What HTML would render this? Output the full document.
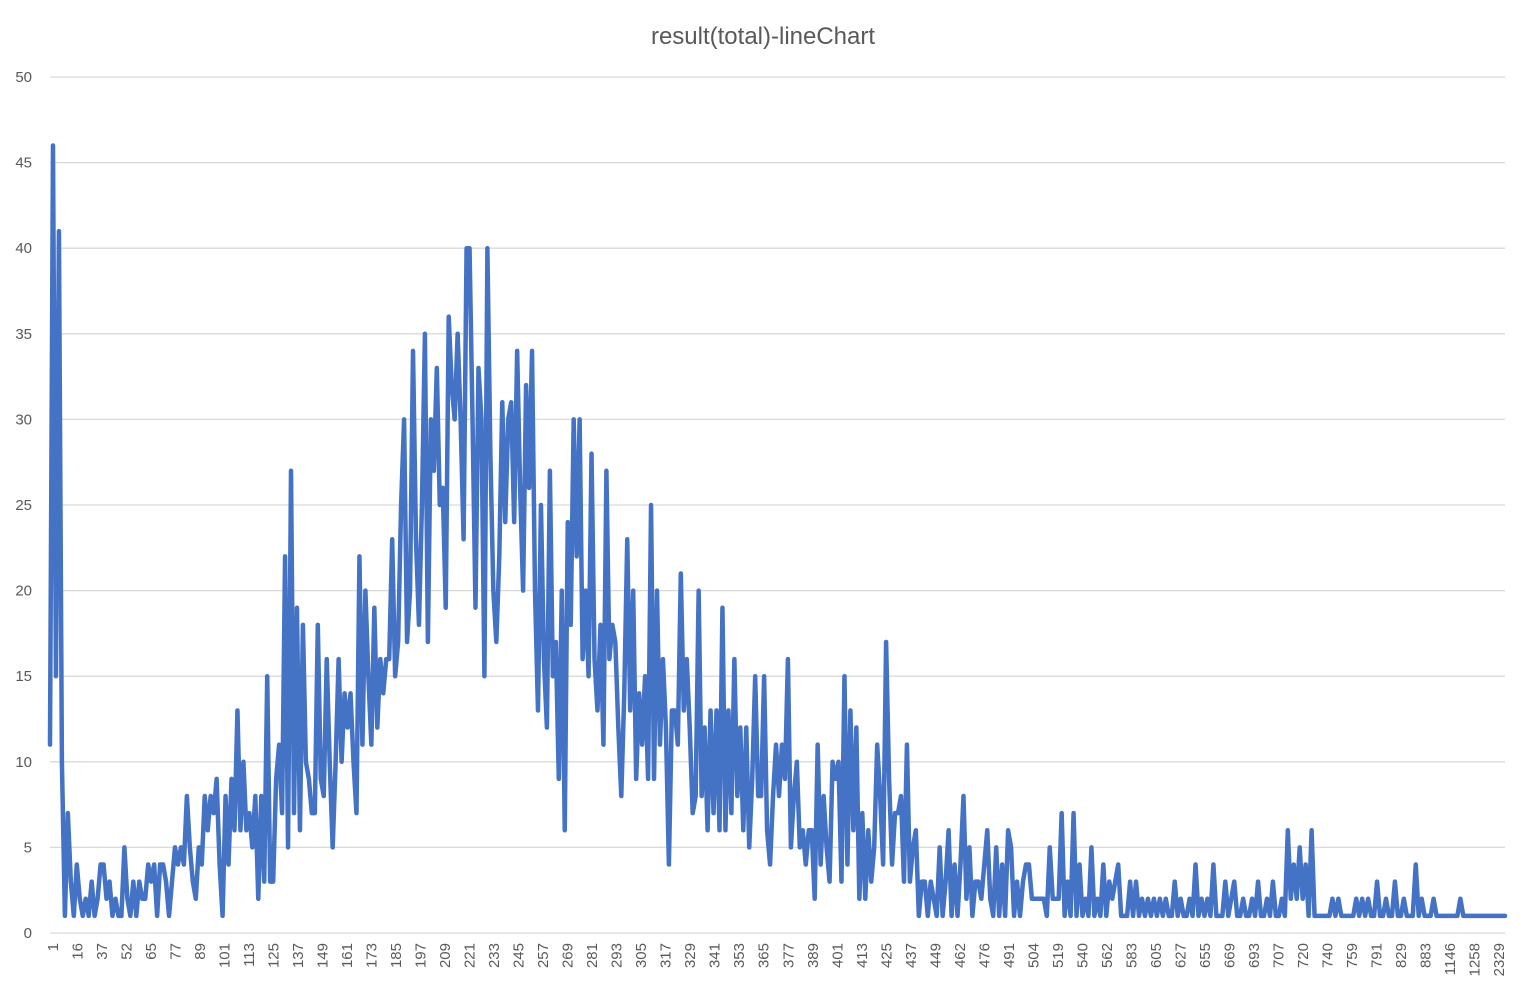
<!DOCTYPE html>
<html><head><meta charset="utf-8"><style>
body{margin:0;background:#fff;font-family:"Liberation Sans",sans-serif}
svg{display:block}
</style></head><body>
<svg id="chart" width="1527" height="997"></svg>
<script>
const yTicks=[0,5,10,15,20,25,30,35,40,45,50];
const xLabels=["1","16","37","52","65","77","89","101","113","125","137","149","161","173","185","197","209","221","233","245","257","269","281","293","305","317","329","341","353","365","377","389","401","413","425","437","449","462","476","491","504","519","540","562","583","605","627","655","669","693","707","720","740","759","791","829","883","1146","1258","2329"];
const values=[11,46,15,41,10,1,7,3,1,4,2,1,2,1,3,1,2,4,4,2,3,1,2,1,1,5,2,1,3,1,3,2,2,4,3,4,1,4,4,3,1,3,5,4,5,4,8,5,3,2,5,4,8,6,8,7,9,4,1,8,4,9,6,13,6,10,6,7,5,8,2,8,3,15,3,3,9,11,7,22,5,27,7,19,6,18,10,9,7,7,18,9,8,16,10,5,10,16,10,14,12,14,10,7,22,11,20,15,11,19,12,16,14,16,16,23,15,17,25,30,17,20,34,23,18,25,35,17,30,27,33,25,26,19,36,32,30,35,30,23,40,40,30,19,33,30,15,40,28,20,17,22,31,24,30,31,24,34,26,20,32,26,34,20,13,25,16,12,27,15,17,9,20,6,24,18,30,22,30,16,20,15,28,16,13,18,11,27,16,18,17,12,8,14,23,13,20,9,14,11,15,9,25,9,20,11,16,12,4,13,13,11,21,13,16,12,7,8,20,8,12,6,13,7,13,6,19,6,13,7,16,8,12,6,12,5,9,15,8,8,15,6,4,8,11,8,11,9,16,5,8,10,5,6,4,6,6,2,11,4,8,5,3,10,9,10,3,15,4,13,6,12,2,7,2,6,3,5,11,8,4,17,9,4,7,7,8,3,11,3,5,6,1,3,3,1,3,2,1,5,1,3,6,1,4,1,4,8,2,5,1,3,3,2,4,6,2,1,5,1,4,1,6,5,1,3,1,3,4,4,2,2,2,2,2,1,5,2,2,2,7,1,3,1,7,1,4,1,2,1,5,1,2,1,4,1,3,2,3,4,1,1,1,3,1,3,1,2,1,2,1,2,1,2,1,2,1,1,3,1,2,1,1,2,1,4,1,2,1,2,1,4,1,1,1,3,1,2,3,1,1,2,1,1,2,1,3,1,1,2,1,3,1,1,2,1,6,2,4,2,5,2,4,1,6,1,1,1,1,1,1,2,1,2,1,1,1,1,1,2,1,2,1,2,1,1,3,1,1,2,1,1,3,1,1,2,1,1,1,4,1,2,1,1,1,2,1,1,1,1,1,1,1,1,2,1,1,1,1,1,1,1,1,1,1,1,1,1,1,1];
const NS="http://www.w3.org/2000/svg";
const svg=document.getElementById('chart');
const L=50,R=1505,T=77,B=933,ymax=50;
const ys=v=>B-(v/ymax)*(B-T);
const xs=i=>L+i*(R-L)/(values.length-1);
const xl=i=>53+i*(1499-53)/(xLabels.length-1);
function mk(tag,attrs){const e=document.createElementNS(NS,tag);for(const k in attrs)e.setAttribute(k,attrs[k]);svg.appendChild(e);return e;}
const title=mk('text',{x:763,y:44,'text-anchor':'middle','font-size':24,fill:'#595959'});
title.textContent='result(total)-lineChart';


yTicks.forEach(t=>{
  const g=mk('line',{x1:L,x2:R,y1:ys(t),y2:ys(t),stroke:'#d9d9d9','stroke-width':1.3});
  
  
  const tx=mk('text',{x:32,y:ys(t)+5,'text-anchor':'end','font-size':15,fill:'#595959'});
  tx.textContent=t;
  
  
});
xLabels.forEach((s,i)=>{
  const x=xl(i);
  const tx=mk('text',{x:0,y:0,'text-anchor':'end','font-size':15,fill:'#595959',transform:`translate(${x+5},943) rotate(-90)`});
  tx.textContent=s;
  
  
});
let d='';
values.forEach((v,i)=>{d+=(i?'L':'M')+xs(i).toFixed(2)+' '+ys(v).toFixed(2);});
const p=mk('path',{d:d,fill:'none',stroke:'#4472c4','stroke-width':4.5,'stroke-linejoin':'round','stroke-linecap':'round'});


</script>
</body></html>
